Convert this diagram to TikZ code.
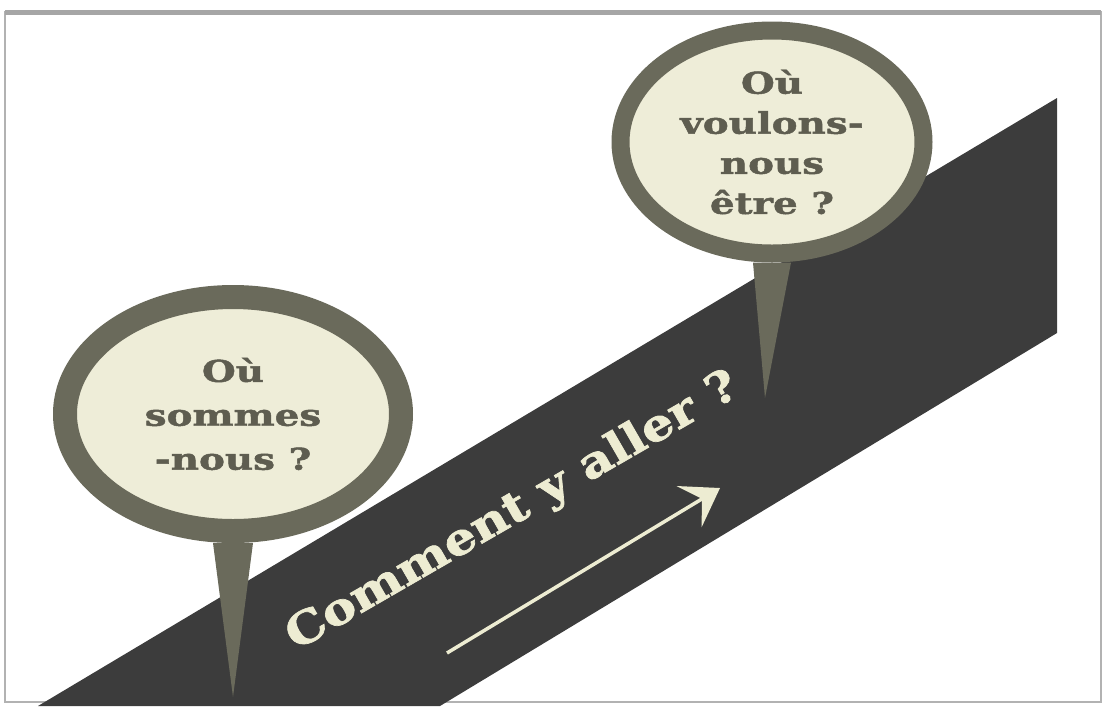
\documentclass[tikz,border=0pt]{standalone}
\usepackage{fontspec}
\newfontfamily\posterfont[FakeStretch=1.3, BoldFeatures={FakeBold=1.6}]{DejaVu Serif}
\newfontfamily\roadfont[FakeStretch=1.15, BoldFeatures={FakeBold=1.6}]{DejaVu Serif}
\usetikzlibrary{shapes.geometric,arrows.meta}

\definecolor{roadgray}{HTML}{3C3C3C}
\definecolor{ringolive}{HTML}{6A6A5B}
\definecolor{bubblecream}{HTML}{EEEDD8}
\definecolor{inkolive}{HTML}{5E5D50}
\definecolor{chalk}{HTML}{EDECD2}

\begin{document}
\begin{tikzpicture}[x=0.1mm,y=-0.1mm]
\tikzstyle{bubble} = [ellipse, draw=ringolive, fill=bubblecream, align=center, text=inkolive, inner sep=0pt]
\tikzstyle{tail} = [fill=ringolive]
\tikzstyle{roadlabel} = [text=chalk, rotate=30, font=\roadfont\bfseries\fontsize{12.5pt}{15pt}\selectfont]
\tikzstyle{roadarrow} = [draw=chalk, line width=0.35mm, -{Stealth[length=3.6mm,width=4.8mm,inset=1.5mm]}]

\useasboundingbox (0,0) rectangle (1107,706);
% frame
\draw[gray!60, line width=0.25mm] (5,12) rectangle (1101,702);
\draw[gray!70, line width=0.5mm] (5,12) -- (1101,12);

% road
\fill[roadgray] (38,706) -- (1057,98) -- (1057,333) -- (440,706) -- cycle;

\coordinate (heretip) at (233,697);
\coordinate (theretip) at (765,398);
\coordinate (arrowtail) at (447,653);
\coordinate (arrowtip) at (720,488);

\node[bubble, line width=2.4mm, minimum width=33.6mm, minimum height=23.4mm,
  font=\posterfont\bfseries\fontsize{8.5pt}{12.5pt}\selectfont] (here) at (233,414) {Où\\sommes\\-nous ?};
\node[bubble, line width=1.8mm, minimum width=30.3mm, minimum height=22.3mm,
  font=\posterfont\bfseries\fontsize{8.5pt}{11.4pt}\selectfont] (there) at (772,142) {Où\\voulons-\\nous\\être ?};

\fill[tail] ([xshift=-2mm]here.south) -- (heretip) -- ([xshift=2mm]here.south) -- cycle;
\fill[tail] ([xshift=-1.9mm]there.south) -- (theretip) -- ([xshift=1.9mm]there.south) -- cycle;

\node[roadlabel] (howto) at (513,512) {Comment y aller ?};
\draw[roadarrow] (arrowtail) -- (arrowtip);
\end{tikzpicture}
\end{document}
